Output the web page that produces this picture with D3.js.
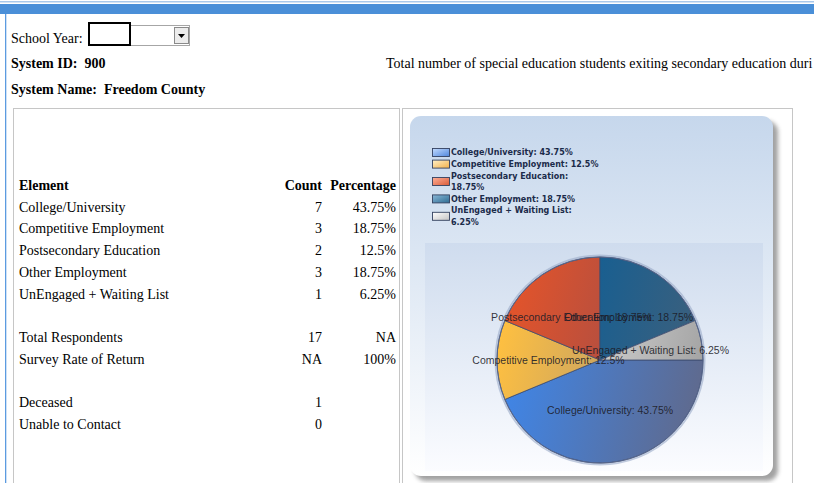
<!DOCTYPE html>
<html>
<head>
<meta charset="utf-8">
<script src="https://cdn.jsdelivr.net/npm/d3@7"></script>
<style>
  html, body { margin: 0; padding: 0; background: #fff; overflow: hidden; }
  svg { display: block; }
  .serif { font-family: "Liberation Serif", "Times New Roman", serif; fill: #000; }
  .pre { white-space: pre; }
</style>
</head>
<body>
<script>
// ---------- DATA ----------
const categories = ["College/University", "Competitive Employment", "Postsecondary Education", "Other Employment", "UnEngaged + Waiting List"];
const tableCounts = ["7", "3", "2", "3", "1"];
const tablePercents = ["43.75%", "18.75%", "12.5%", "18.75%", "6.25%"];
const chartPercents = [43.75, 12.5, 18.75, 18.75, 6.25];
const summaryLabels = ["Total Respondents", "Survey Rate of Return"];
const summaryCounts = ["17", "NA"];
const summaryPercents = ["NA", "100%"];
const otherLabels = ["Deceased", "Unable to Contact"];
const otherCounts = ["1", "0"];
const headerLabels = ["Element", "Count", "Percentage"];
const systemId = "900";
const systemName = "Freedom County";
const titleText = "Total number of special education students exiting secondary education duri";

// ---------- STYLE ----------
const sliceStart = ["#3c88f0", "#ffc040", "#e4542a", "#005e9e", "#f0f0f0"];
const sliceEnd   = ["#5f6a8e", "#a08e7c", "#8c4a52", "#41607a", "#a2a2a2"];
const swatchLight = ["#c4dcff", "#fff0c8", "#ffb098", "#8ab8d8", "#ffffff"];
const swatchDark  = ["#4f86dc", "#f2b04a", "#d85a38", "#2e6c92", "#c4c4c4"];

const W = 814, H = 483;
const svg = d3.select("body").append("svg").attr("width", W).attr("height", H);
const defs = svg.append("defs");

// ---------- PAGE CHROME ----------
svg.append("rect").attr("x", 0).attr("y", 1).attr("width", W).attr("height", 1.5).attr("fill", "#a9c8ea");
svg.append("rect").attr("x", 0).attr("y", 4).attr("width", W).attr("height", 10).attr("fill", "#4a8fd8");
svg.append("rect").attr("x", 5).attr("y", 14).attr("width", 1.3).attr("height", H - 14).attr("fill", "#5c9be0");

// School year selector
svg.append("text").attr("class", "serif").attr("x", 11).attr("y", 43).attr("font-size", 14).text("School Year:");
svg.append("rect").attr("x", 88.5).attr("y", 25.5).attr("width", 101).attr("height", 20).attr("fill", "#fff").attr("stroke", "#a6a6a6");
svg.append("rect").attr("x", 89).attr("y", 23).attr("width", 41).attr("height", 22).attr("fill", "#fff").attr("stroke", "#000").attr("stroke-width", 2);
svg.append("rect").attr("x", 174.5).attr("y", 27.5).attr("width", 14).attr("height", 16).attr("fill", "#ececec").attr("stroke", "#8a8a8a");
svg.append("path").attr("d", "M178,34 L185,34 L181.5,38 Z").attr("fill", "#000");

svg.append("text").attr("class", "serif pre").attr("x", 11).attr("y", 68).attr("font-size", 14).attr("font-weight", "bold").text("System ID:  " + systemId);
svg.append("text").attr("class", "serif pre").attr("x", 11).attr("y", 94).attr("font-size", 14).attr("font-weight", "bold").text("System Name:  " + systemName);
svg.append("text").attr("class", "serif").attr("x", 386).attr("y", 68).attr("font-size", 14).text(titleText);

// Table cells
svg.append("rect").attr("x", 13.5).attr("y", 108.5).attr("width", 386).attr("height", 400).attr("fill", "none").attr("stroke", "#c6c6c6");
svg.append("rect").attr("x", 402.5).attr("y", 108.5).attr("width", 390).attr("height", 400).attr("fill", "none").attr("stroke", "#c6c6c6");

// ---------- TABLE ----------
const xLabel = 19, xCount = 322, xPct = 396;
const rowY = d3.scaleLinear().domain([0, 1]).range([190, 211.7]);
const tbl = svg.append("g").attr("class", "serif").attr("font-size", 14);
const hdr = tbl.append("g").attr("font-weight", "bold");
hdr.append("text").attr("x", xLabel).attr("y", rowY(0)).text(headerLabels[0]);
hdr.append("text").attr("x", xCount).attr("y", rowY(0)).attr("text-anchor", "end").text(headerLabels[1]);
hdr.append("text").attr("x", xPct).attr("y", rowY(0)).attr("text-anchor", "end").text(headerLabels[2]);

function addRows(labels, counts, pcts, startRow) {
  labels.forEach((l, i) => {
    const y = rowY(startRow + i);
    tbl.append("text").attr("x", xLabel).attr("y", y).text(l);
    if (counts) tbl.append("text").attr("x", xCount).attr("y", y).attr("text-anchor", "end").text(counts[i]);
    if (pcts) tbl.append("text").attr("x", xPct).attr("y", y).attr("text-anchor", "end").text(pcts[i]);
  });
}
addRows(categories, tableCounts, tablePercents, 1);
addRows(summaryLabels, summaryCounts, summaryPercents, 7);
addRows(otherLabels, otherCounts, null, 10);

// ---------- CHART PANEL ----------
const panelGrad = defs.append("linearGradient").attr("id", "panelGrad").attr("x1", 0).attr("y1", 0).attr("x2", 0).attr("y2", 1);
panelGrad.append("stop").attr("offset", "0%").attr("stop-color", "#c6d7ec");
panelGrad.append("stop").attr("offset", "100%").attr("stop-color", "#ffffff");
const shadowF = defs.append("filter").attr("id", "shadowBlur").attr("x", "-10%").attr("y", "-10%").attr("width", "120%").attr("height", "120%");
shadowF.append("feGaussianBlur").attr("stdDeviation", 2);

const panel = { x: 410, y: 116, w: 363, h: 360 };
svg.append("rect").attr("x", panel.x + 5).attr("y", panel.y + 5).attr("width", panel.w).attr("height", panel.h)
  .attr("rx", 11).attr("fill", "#7a7a7a").attr("opacity", 0.7).attr("filter", "url(#shadowBlur)");
svg.append("rect").attr("x", panel.x).attr("y", panel.y).attr("width", panel.w).attr("height", panel.h)
  .attr("rx", 11).attr("fill", "url(#panelGrad)");

// plot area
const plotGrad = defs.append("linearGradient").attr("id", "plotGrad").attr("x1", 0).attr("y1", 0).attr("x2", 0).attr("y2", 1);
plotGrad.append("stop").attr("offset", "0%").attr("stop-color", "#cfdcee");
plotGrad.append("stop").attr("offset", "100%").attr("stop-color", "#fbfcff");
svg.append("rect").attr("x", 425).attr("y", 243).attr("width", 338).attr("height", 228).attr("fill", "url(#plotGrad)");

// ---------- LEGEND ----------
const legend = svg.append("g").attr("font-family", "'DejaVu Sans', Verdana, sans-serif")
  .attr("font-size", 8).attr("font-weight", "bold").attr("fill", "#1b2b4a");
const lineH = 11.6;
const wrapWidth = 149.2;
let lineIdx = 0;
categories.forEach((c, i) => {
  const g = legend.append("g");
  const label = c + ": " + chartPercents[i] + "%";
  const words = label.split(" ");
  const lines = [];
  let cur = "";
  const probe = g.append("text");
  words.forEach(w => {
    const test = cur ? cur + " " + w : w;
    probe.text(test);
    if (probe.node().getComputedTextLength() > wrapWidth && cur) { lines.push(cur); cur = w; }
    else cur = test;
  });
  lines.push(cur);
  probe.remove();
  const y0 = 152.5 + lineH * lineIdx;
  lines.forEach((ln, k) => {
    g.append("text").attr("x", 451).attr("y", y0 + k * lineH).attr("dy", "0.35em").text(ln);
  });
  const midY = y0 + (lines.length - 1) * lineH / 2;
  const sg = defs.append("linearGradient").attr("id", "sw" + i).attr("x1", 0).attr("y1", 0).attr("x2", 1).attr("y2", 1);
  sg.append("stop").attr("offset", "0%").attr("stop-color", swatchLight[i]);
  sg.append("stop").attr("offset", "100%").attr("stop-color", swatchDark[i]);
  g.append("rect").attr("x", 432.5).attr("y", midY - 4).attr("width", 17).attr("height", 8)
    .attr("fill", "url(#sw" + i + ")").attr("stroke", "#33415f").attr("stroke-width", 0.9);
  lineIdx += lines.length;
});

// ---------- PIE ----------
const cx = 600, cy = 360, R = 103;
const pie = d3.pie().sort(null).value(d => d).startAngle(Math.PI / 2).endAngle(Math.PI / 2 + 2 * Math.PI);
const arcs = pie(chartPercents);
const arc = d3.arc().innerRadius(0).outerRadius(R);

categories.forEach((c, i) => {
  const g = defs.append("linearGradient").attr("id", "sl" + i).attr("gradientUnits", "userSpaceOnUse")
    .attr("x1", -R).attr("y1", -R * 0.25).attr("x2", R).attr("y2", R * 0.25);
  g.append("stop").attr("offset", "0%").attr("stop-color", sliceStart[i]);
  g.append("stop").attr("offset", "100%").attr("stop-color", sliceEnd[i]);
});

const pieG = svg.append("g").attr("transform", `translate(${cx},${cy})`);
pieG.append("circle").attr("r", R + 1.5).attr("fill", "none").attr("stroke", "#9aaac8").attr("stroke-width", 2).attr("opacity", 0.6);
pieG.selectAll("path.slice").data(arcs).join("path").attr("class", "slice")
  .attr("d", arc).attr("fill", (d, i) => `url(#sl${i})`)
  .attr("stroke", "#3e4d70").attr("stroke-width", 0.8);
pieG.append("circle").attr("r", R).attr("fill", "none").attr("stroke", "#56668c").attr("stroke-width", 1);

pieG.selectAll("text.lbl").data(arcs).join("text").attr("class", "lbl")
  .attr("transform", d => `translate(${arc.centroid(d)})`)
  .attr("text-anchor", "middle").attr("dy", "0.35em")
  .attr("font-family", "'Liberation Sans', Arial, sans-serif").attr("font-size", 10.5)
  .attr("fill", "#1c1c28").attr("fill-opacity", 0.9)
  .text((d, i) => categories[i] + ": " + chartPercents[i] + "%");
</script>
</body>
</html>
